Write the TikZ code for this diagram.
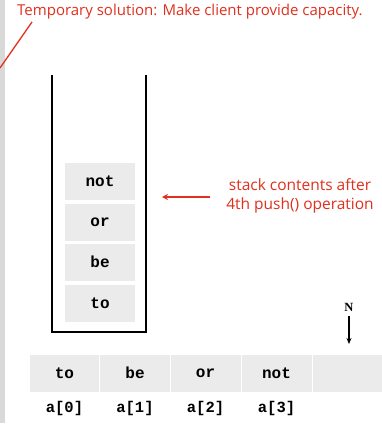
\documentclass[tikz,border=0pt]{standalone}
\usepackage{fontspec}
\setmainfont{Liberation Serif}
\newfontfamily\notefont{Open Sans}
\newfontfamily\codefont{Liberation Mono}
\usetikzlibrary{arrows.meta}
\definecolor{notered}{HTML}{E0301E}
\definecolor{cellgrey}{HTML}{EBEBEB}
\definecolor{bargrey}{HTML}{D9D9D9}
\tikzset{
  note/.style={text=notered, font=\notefont\fontsize{15}{18}\selectfont, inner sep=0pt},
  notearrow/.style={draw=notered, line width=1.3pt, -{Stealth[length=6pt,width=6pt]}},
  cell/.style={fill=cellgrey, draw=white, line width=1pt, minimum width=71pt, minimum height=38pt,
               inner sep=0pt, font=\codefont\bfseries\fontsize{16}{18}\selectfont},
  stackcell/.style={cell, minimum width=71pt, minimum height=38pt},
  idx/.style={font=\codefont\bfseries\fontsize{15.5}{17}\selectfont, inner sep=0pt},
  wall/.style={line width=2.6pt, line cap=butt, line join=miter},
}
\begin{document}
\begin{tikzpicture}[x=1pt,y=-1pt]
  \useasboundingbox (0,0) rectangle (381,425);
  \fill[white] (0,0) rectangle (381,425);
  % grey margin bar on the left
  \fill[bargrey] (0,0) rectangle (5,423);

  % heading note with its pointer
  \node[note, anchor=west] (title) at (17,12) {Temporary solution: Make client provide capacity.};
  \coordinate (tp) at (32,22);
  \coordinate (te) at (0,68);
  \draw[notered, line width=1.3pt] (tp) -- (te);

  % the stack container
  \coordinate (wl) at (52,75);
  \coordinate (wr) at (146,75);
  \draw[wall] (wl) -- (52,332) -- (146,332) -- (wr);

  % stack contents, top to bottom
  \node[stackcell] (s4) at (100,181) {not};
  \node[stackcell] (s3) at (100,222) {or};
  \node[stackcell] (s2) at (100,262) {be};
  \node[stackcell] (s1) at (100,303) {to};

  % note on the stack
  \node[note, align=center, font=\notefont\fontsize{15.5}{18}\selectfont] (snote) at (300,196)
    {stack contents after\\[1pt]4th push() operation};
  \coordinate (sa) at (210,197);
  \coordinate (sb) at (162,197);
  \draw[notearrow] (sa) -- (sb);

  % the array
  \node[cell] (a0) at (64.5,373) {to};
  \node[cell] (a1) at (135,373) {be};
  \node[cell] (a2) at (205.5,373) {or};
  \node[cell] (a3) at (276.5,373) {not};
  \node[cell, minimum width=70pt] (a4) at (347,373) {};

  \node[idx] (i0) at (64.5,408) {a[0]};
  \node[idx] (i1) at (135,408) {a[1]};
  \node[idx] (i2) at (205.5,408) {a[2]};
  \node[idx] (i3) at (276.5,408) {a[3]};

  % capacity marker
  \node[font=\bfseries\fontsize{12.5}{14}\selectfont, inner sep=0pt] (N) at (349,307) {N};
  \coordinate (nb) at (349,344);
  \draw[line width=1.2pt, -{Stealth[length=6pt,width=5pt]}] (N.south) ++(0,5) -- (nb);
\end{tikzpicture}
\end{document}
